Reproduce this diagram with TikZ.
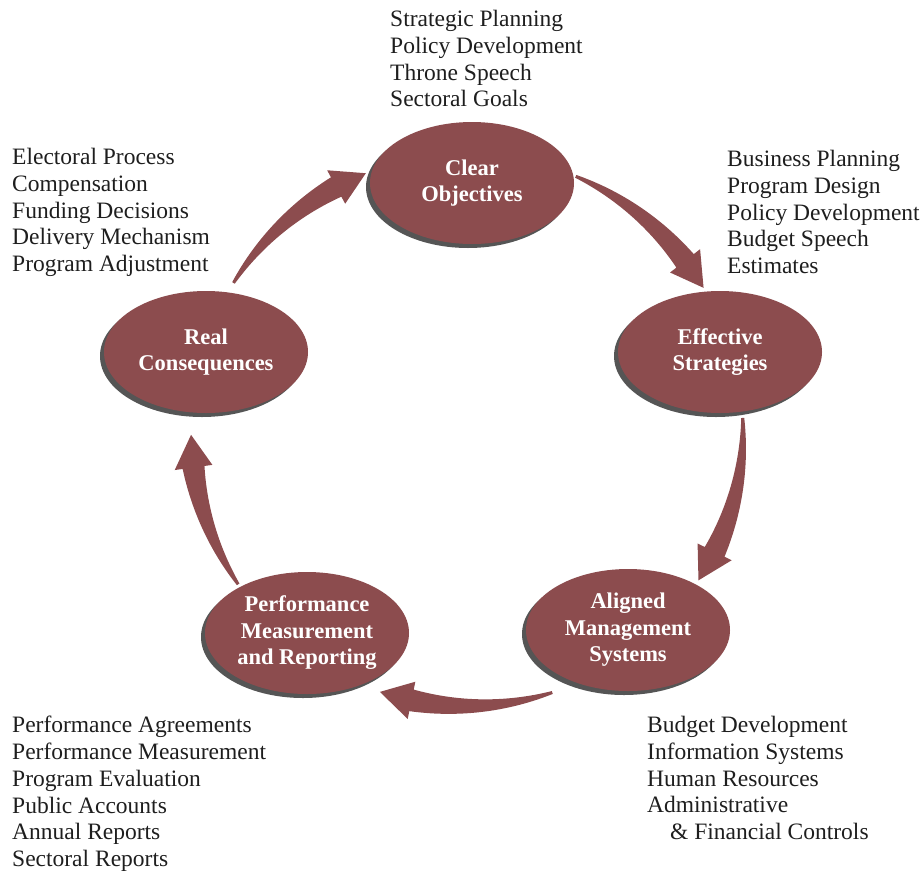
\documentclass[tikz,border=0pt]{standalone}
\usepackage{fontspec}
\setmainfont{Liberation Serif}
\usetikzlibrary{shapes.geometric}
\definecolor{maroon}{RGB}{140,76,78}
\definecolor{shadowgray}{RGB}{85,85,85}
\definecolor{listtext}{RGB}{30,30,30}
\tikzset{
  stage/.style={ellipse, fill=maroon, minimum width=204pt, minimum height=122pt,
    inner sep=0pt, align=center, text=white,
    font=\bfseries\fontsize{22.5}{26.5}\selectfont},
  shadowell/.style={ellipse, fill=shadowgray, minimum width=204pt, minimum height=122pt, inner sep=0pt},
  itemlist/.style={anchor=north west, inner sep=0pt, align=left, text=listtext,
    font=\fontsize{23.5}{26.8}\selectfont},
  arrowfill/.style={fill=maroon}
}
\newcommand{\cycarrow}[2]{% #1 tail angle, #2 tip angle (clockwise)
  \pgfmathsetmacro\ha{#2+6.8}%
  \fill[arrowfill] plot[domain=#1:\ha, samples=40]
      (\x:{276+(1.5+9.5*(#1-\x)/(#1-\ha))})
    -- (\ha:295) -- (#2:276) -- (\ha:257)
    -- plot[domain=\ha:#1, samples=40]
      (\x:{276-(1.5+9.5*(#1-\x)/(#1-\ha))}) -- cycle;
}
\begin{document}
\begin{tikzpicture}[x=1pt,y=1pt]
\useasboundingbox (0,0) rectangle (923,-873);
\clip (0,0) rectangle (923,-873);
% shadows
\foreach \px/\py in {472/-183,720/-352,628/-630,307/-633,206/-352}{
  \node[shadowell] at (\px-4,\py-4) {};
}
% stages
\node[stage] (clear) at (472,-183) {Clear\\Objectives};
\node[stage] (eff) at (720,-352) {Effective\\Strategies};
\node[stage] (align) at (628,-630) {Aligned\\Management\\Systems};
\node[stage] (perf) at (307,-633) {Performance\\Measurement\\and Reporting};
\node[stage] (real) at (206,-352) {Real\\Consequences};
% arrows
\begin{scope}[shift={(467,-430)}]
  \cycarrow{66.8}{31}
  \cycarrow{2.5}{-33}
  \cycarrow{-72}{-108.4}
  \cycarrow{-146}{-179}
  \cycarrow{147.8}{111.5}
\end{scope}
% lists
\node[itemlist] (l1) at (390,-10) {Strategic Planning\\Policy Development\\Throne Speech\\Sectoral Goals};
\node[itemlist] (l2) at (12,-148) {Electoral Process\\Compensation\\Funding Decisions\\Delivery Mechanism\\Program Adjustment};
\node[itemlist] (l3) at (727,-150) {Business Planning\\Program Design\\Policy Development\\Budget Speech\\Estimates};
\node[itemlist] (l4) at (12,-716) {Performance Agreements\\Performance Measurement\\Program Evaluation\\Public Accounts\\Annual Reports\\Sectoral Reports};
\node[itemlist] (l5) at (647,-716) {Budget Development\\Information Systems\\Human Resources\\Administrative\\\hspace*{23pt}\& Financial Controls};
\end{tikzpicture}
\end{document}
